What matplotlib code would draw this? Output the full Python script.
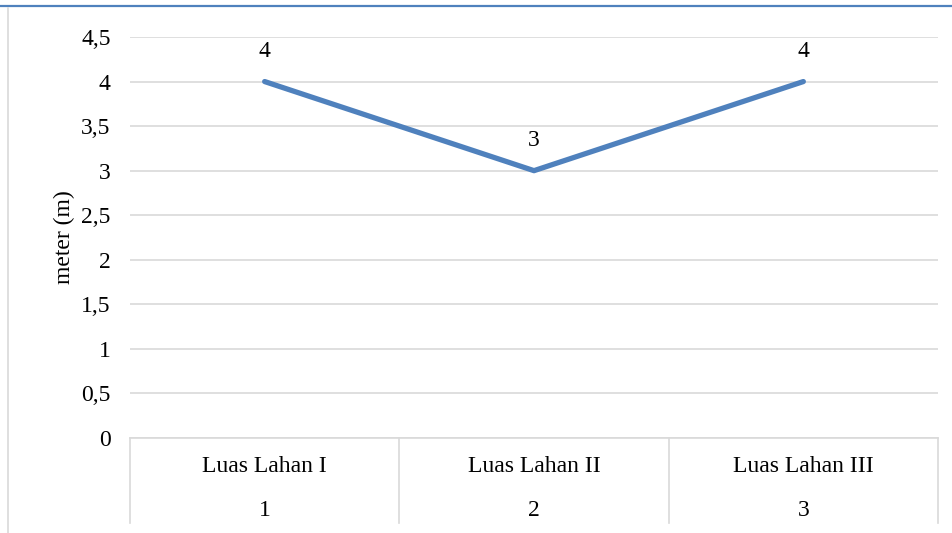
import matplotlib.pyplot as plt
import matplotlib.ticker as mtick
import matplotlib.transforms as mtrans
from matplotlib.lines import Line2D

# data
lahan = ["Luas Lahan I", "Luas Lahan II", "Luas Lahan III"]
nomor = ["1", "2", "3"]
tinggi = [4, 3, 4]
y_ticks = [0, 0.5, 1, 1.5, 2, 2.5, 3, 3.5, 4, 4.5]

plt.rcParams["font.family"] = ["Liberation Serif", "DejaVu Serif"]
FS = 17
W, H = 953, 533
fig = plt.figure(figsize=(W / 100, H / 100), dpi=100)

# plot area in pixels: x 130..938, y 37..438
ax = fig.add_axes([130 / W, (H - 438) / H, 808 / W, 401 / H])

x = [i + 0.5 for i in range(len(tinggi))]
ax.plot(x, tinggi, color="#4F81BD", lw=3.8, solid_capstyle="round", zorder=3)

for xi, v in zip(x, tinggi):
    ax.annotate(str(v), (xi, v), xytext=(0, 21.5), textcoords="offset points",
                ha="center", va="center", fontsize=FS)

ax.set_xlim(0, 3)
ax.set_ylim(0, 4.5)
ax.set_yticks(y_ticks)
ax.yaxis.set_major_formatter(mtick.FuncFormatter(lambda v, p: f"{v:g}".replace(".", ",")))
ax.tick_params(axis="y", length=0, pad=14, labelsize=FS)
ax.set_xticks([])
ax.grid(axis="y", color="#D9D9D9", lw=1.2)
ax.set_axisbelow(True)
for s in ["top", "right", "left"]:
    ax.spines[s].set_visible(False)
ax.spines["bottom"].set_color("#D9D9D9")
ax.spines["bottom"].set_linewidth(1.2)

ax.set_ylabel("meter (m)", fontsize=FS, labelpad=4)

# two-level category axis below the plot
tr = mtrans.blended_transform_factory(ax.transData, ax.transAxes)
depth = -85 / 401
for xs in range(len(lahan) + 1):
    ax.add_line(Line2D([xs, xs], [0, depth], transform=tr, color="#D9D9D9",
                       lw=1.2, clip_on=False))
for xi, nama, no in zip(x, lahan, nomor):
    ax.text(xi, -29 / 401, nama, transform=tr, ha="center", va="center", fontsize=FS)
    ax.text(xi, -72 / 401, no, transform=tr, ha="center", va="center", fontsize=FS)

# frame lines around the figure
fig.add_artist(Line2D([0, 1], [1 - 6 / H, 1 - 6 / H], color="#4F81BD", lw=1.6))
fig.add_artist(Line2D([8 / W, 8 / W], [0, 1 - 8 / H], color="#D9D9D9", lw=1.2))

fig.savefig("out.png", dpi=100)
